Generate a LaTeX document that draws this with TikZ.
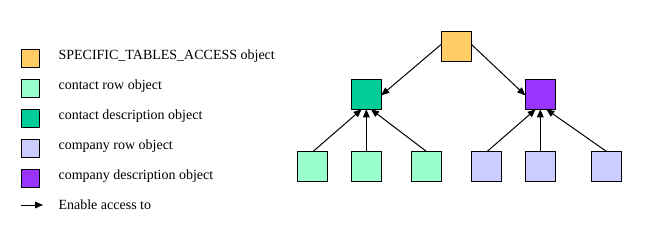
\documentclass[tikz,border=0pt]{standalone}
\usepackage{fontspec}
\setmainfont{Liberation Serif}
\usetikzlibrary{arrows.meta}
\definecolor{corange}{HTML}{FFCC66}
\definecolor{clgreen}{HTML}{99FFCC}
\definecolor{cteal}{HTML}{00CC99}
\definecolor{clav}{HTML}{CCCCFF}
\definecolor{cpurp}{HTML}{9933FF}
\begin{document}
\begin{tikzpicture}[x=0.75pt,y=-0.75pt,
  obj/.style={draw=black,line width=0.75pt,minimum size=22.5pt,inner sep=0pt,outer sep=0pt},
  leg/.style={draw=black,line width=0.75pt,minimum size=13.5pt,inner sep=0pt,outer sep=0pt},
  lbl/.style={anchor=base west,inner sep=0pt,font=\fontsize{10.5pt}{12pt}\selectfont},
  acc/.style={line width=0.75pt,-{Triangle[length=6pt,width=5pt]}}]
\useasboundingbox (0,0) rectangle (660,248);
% legend
\node[leg,fill=corange] (l1) at (30.5,58.3) {};
\node[leg,fill=clgreen] (l2) at (30.5,88.3) {};
\node[leg,fill=cteal] (l3) at (30.5,118.3) {};
\node[leg,fill=clav] (l4) at (30.5,148.3) {};
\node[leg,fill=cpurp] (l5) at (30.5,178.3) {};
\node[lbl] (t1) at (58.3,59.5) {SPECIFIC\_TABLES\_ACCESS object};
\node[lbl] (t2) at (58.3,89.8) {contact row object};
\node[lbl] (t3) at (58.3,119.8) {contact description object};
\node[lbl] (t4) at (58.3,149.8) {company row object};
\node[lbl] (t5) at (58.3,179.8) {company description object};
\node[lbl] (t6) at (58.3,209.8) {Enable access to};
\coordinate (a0) at (21,205);
\coordinate (a1) at (43,205);
\draw[acc] (a0) -- (a1);
% tree
\node[obj,fill=corange] (top) at (456.3,46.3) {};
\node[obj,fill=cteal] (cd) at (366.3,94.3) {};
\node[obj,fill=cpurp] (pd) at (540.3,94.3) {};
\node[obj,fill=clgreen] (c1) at (312.3,166.3) {};
\node[obj,fill=clgreen] (c2) at (366.3,166.3) {};
\node[obj,fill=clgreen] (c3) at (426.3,166.3) {};
\node[obj,fill=clav] (p1) at (486.3,166.3) {};
\node[obj,fill=clav] (p2) at (540.3,166.3) {};
\node[obj,fill=clav] (p3) at (606.3,166.3) {};
\draw[acc] ([yshift=1.5pt]top.west) -- ([yshift=-0.75pt]cd.east);
\draw[acc] ([yshift=1.5pt]top.east) -- ([yshift=-0.75pt]pd.west);
\draw[acc] ([xshift=0.75pt]c1.north) -- ([xshift=-3.5pt]cd.south);
\draw[acc] (c2.north) -- (cd.south);
\draw[acc] (c3.north) -- ([xshift=3.5pt]cd.south);
\draw[acc] ([xshift=0.75pt]p1.north) -- ([xshift=-3.5pt]pd.south);
\draw[acc] (p2.north) -- (pd.south);
\draw[acc] (p3.north) -- ([xshift=4.5pt]pd.south);
\end{tikzpicture}
\end{document}
